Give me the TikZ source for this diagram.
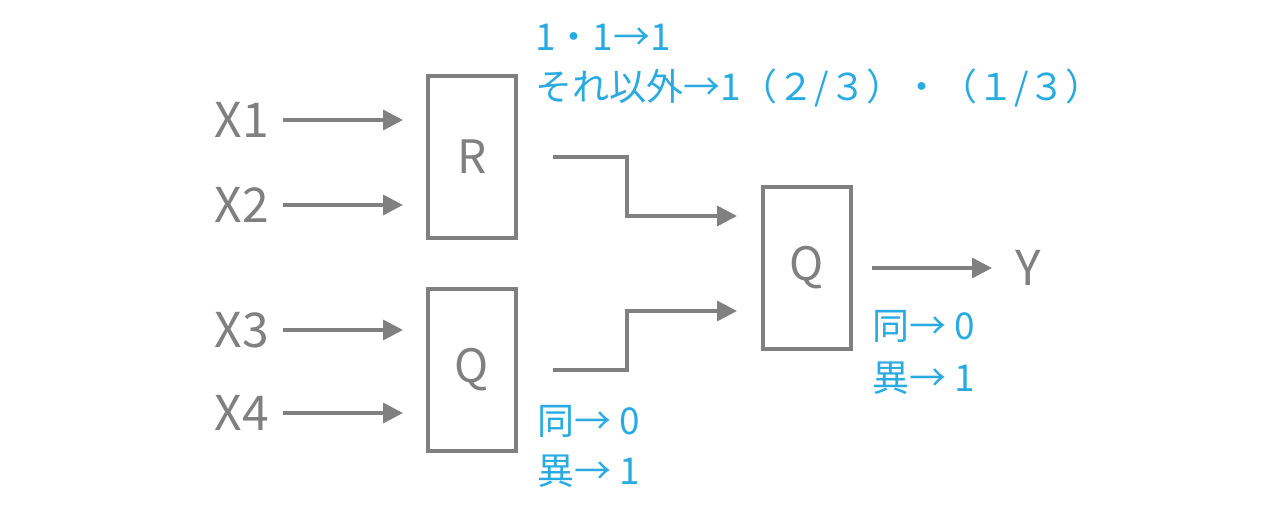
\documentclass[tikz,border=0pt]{standalone}
\usepackage{fontspec}
\setmainfont{Noto Sans CJK JP}
\usetikzlibrary{arrows.meta}
\definecolor{gr}{HTML}{808080}
\definecolor{bl}{HTML}{29ABE2}
\tikzset{
 gate/.style={draw=gr,line width=3.5pt,minimum width=88pt,minimum height=162pt,inner sep=0pt,font=\fontsize{46}{50}\selectfont,text=gr},
 lab/.style={text=gr,font=\fontsize{48}{52}\selectfont,inner sep=0pt},
 note/.style={text=bl,font=\fontsize{37}{52}\selectfont,inner sep=0pt,anchor=west,align=left},
 wire/.style={draw=gr,line width=3.5pt,-{Triangle[length=20pt,width=20pt]}}
}
\begin{document}
\begin{tikzpicture}[x=1pt,y=-1pt]
\useasboundingbox (0,0) rectangle (1274,510);
\node[gate] (R) at (472,157) {R};
\node[gate] (Q1) at (472,370) {Q};
\node[gate] (Q2) at (807,268) {Q};
\node[lab] (x1) at (242,120) {X1};
\node[lab] (x2) at (242,205) {X2};
\node[lab] (x3) at (242,330) {X3};
\node[lab] (x4) at (242,413) {X4};
\node[lab] (y) at (1028,268) {Y};
\coordinate (a1) at (283,120); \coordinate (b1) at (403,120);
\coordinate (a2) at (283,205); \coordinate (b2) at (403,205);
\coordinate (a3) at (283,330); \coordinate (b3) at (403,330);
\coordinate (a4) at (283,413); \coordinate (b4) at (403,413);
\foreach \i in {1,2,3,4}{\draw[wire] (a\i) -- (b\i);}
\coordinate (r0) at (553,157); \coordinate (r1) at (737,216);
\coordinate (q0) at (553,370); \coordinate (q1) at (737,311);
\draw[wire] (r0) -- (627,157) -- (627,216) -- (r1);
\draw[wire] (q0) -- (627,370) -- (627,311) -- (q1);
\coordinate (o0) at (872,268); \coordinate (o1) at (992,268);
\draw[wire] (o0) -- (o1);
\node[note] (n1) at (535,37) {1・1→1};
\node[note] (n2) at (535,88) {それ以外→1（２/３）・（１/３）};
\node[note] (n3) at (537,421) {同→ 0};
\node[note] (n4) at (537,471) {異→ 1};
\node[note] (n5) at (872,326) {同→ 0};
\node[note] (n6) at (872,378) {異→ 1};
\end{tikzpicture}
\end{document}
